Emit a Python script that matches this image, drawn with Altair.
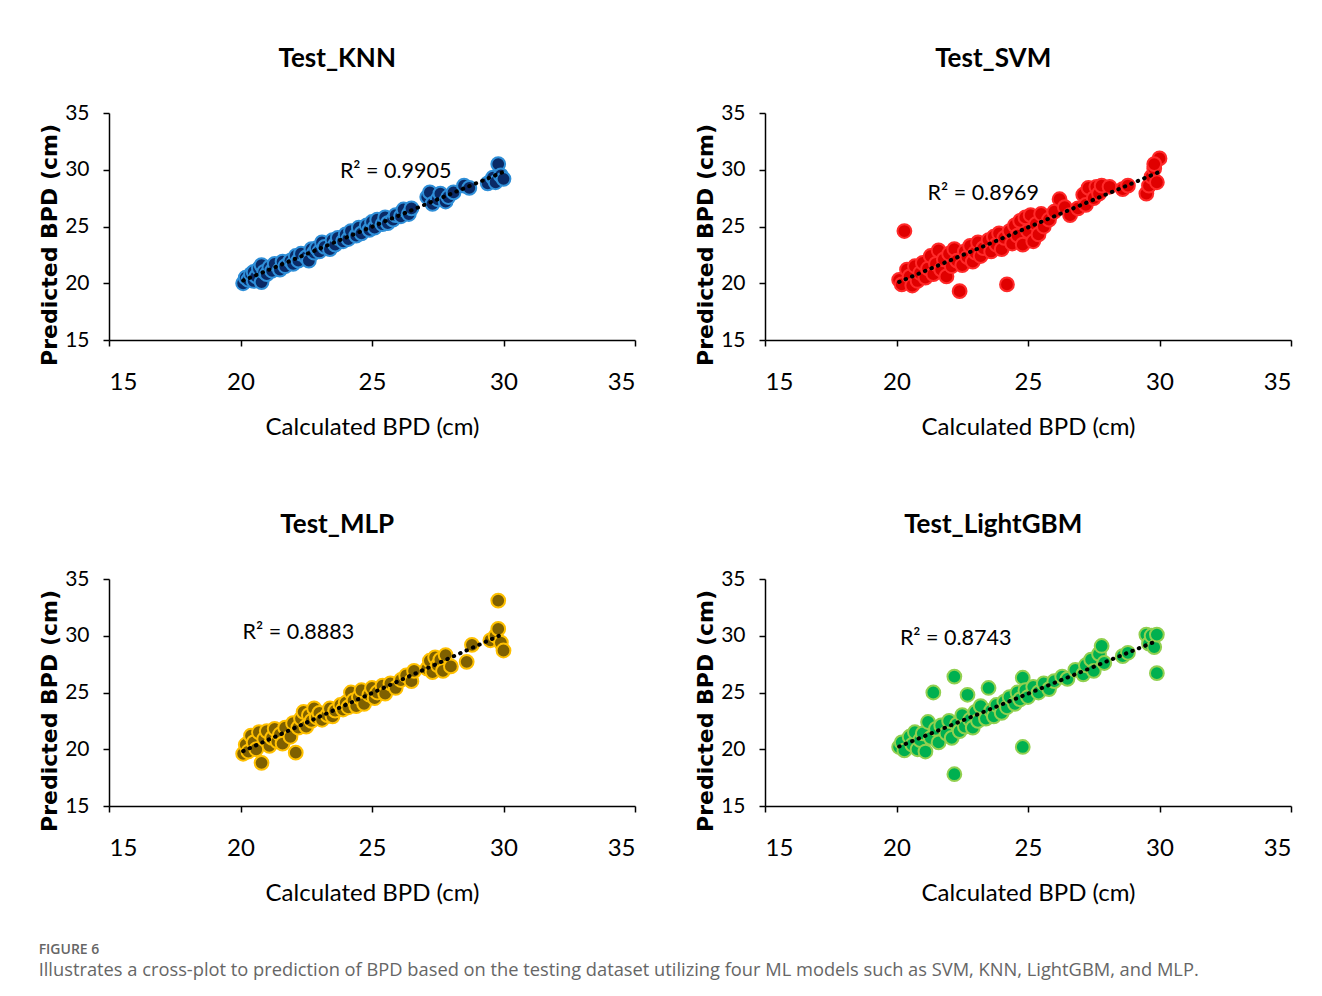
import altair as alt
import pandas as pd

# ---------------- data ----------------
knn_points = [
    (20.1, 20.0), (20.2, 20.5), (20.3, 20.3), (20.4, 20.8), (20.5, 20.2), (20.5, 21.0),
    (20.6, 20.6), (20.7, 21.3), (20.8, 20.1), (20.8, 21.6), (20.9, 21.0), (21.0, 20.8),
    (21.1, 21.4), (21.2, 21.1), (21.3, 21.7), (21.5, 21.2), (21.6, 21.9), (21.7, 21.5),
    (21.9, 22.0), (22.0, 21.7), (22.1, 22.4), (22.2, 22.0), (22.3, 22.6), (22.5, 22.3),
    (22.6, 22.0), (22.7, 23.0), (22.8, 22.7), (22.9, 23.1), (23.0, 22.8), (23.1, 23.6),
    (23.2, 23.2), (23.4, 23.0), (23.5, 23.8), (23.6, 23.4), (23.7, 24.0), (23.9, 23.7),
    (24.0, 24.3), (24.1, 23.9), (24.2, 24.6), (24.4, 24.2), (24.5, 24.9), (24.6, 24.4),
    (24.8, 25.1), (24.9, 24.7), (25.0, 25.4), (25.1, 24.9), (25.2, 25.6), (25.4, 25.2),
    (25.5, 25.8), (25.6, 25.3), (25.8, 25.6), (25.9, 26.0), (26.1, 25.9), (26.2, 26.5),
    (26.4, 26.1), (26.5, 26.6), (27.1, 27.6), (27.2, 28.0), (27.3, 27.0), (27.5, 27.4),
    (27.6, 27.9), (27.8, 27.2), (27.9, 27.6), (28.1, 28.0), (28.5, 28.6), (28.7, 28.4),
    (29.4, 28.8), (29.6, 29.3), (29.7, 28.9), (29.8, 30.5), (29.9, 29.5), (30.0, 29.2),
]
svm_points = [
    (20.1, 20.3), (20.2, 19.9), (20.3, 24.6), (20.4, 21.2), (20.5, 20.6), (20.6, 19.8),
    (20.7, 21.5), (20.8, 20.2), (20.9, 20.9), (21.0, 21.8), (21.1, 20.5), (21.2, 21.3),
    (21.3, 22.4), (21.4, 20.8), (21.5, 21.7), (21.6, 22.9), (21.7, 21.2), (21.8, 22.1),
    (21.9, 20.6), (22.0, 22.6), (22.1, 21.5), (22.2, 23.0), (22.3, 22.0), (22.4, 19.3),
    (22.5, 21.6), (22.6, 22.8), (22.7, 22.3), (22.8, 23.3), (22.9, 21.9), (23.0, 22.7),
    (23.1, 23.6), (23.2, 22.4), (23.3, 23.1), (23.5, 23.8), (23.6, 22.8), (23.7, 24.1),
    (23.8, 23.4), (23.9, 24.4), (24.0, 23.0), (24.1, 24.0), (24.2, 19.9), (24.3, 24.6),
    (24.4, 23.5), (24.5, 25.1), (24.6, 24.2), (24.7, 25.5), (24.8, 23.4), (24.9, 25.8),
    (25.0, 24.6), (25.1, 26.0), (25.2, 23.7), (25.3, 25.2), (25.4, 24.3), (25.5, 26.1),
    (25.6, 25.0), (25.8, 25.6), (26.0, 26.3), (26.2, 27.4), (26.4, 26.7), (26.6, 26.0),
    (26.9, 26.6), (27.1, 27.8), (27.2, 26.9), (27.3, 28.4), (27.5, 27.5), (27.6, 28.5),
    (27.7, 27.9), (27.8, 28.6), (28.1, 28.5), (28.6, 28.3), (28.8, 28.6), (29.5, 27.9),
    (29.6, 28.6), (29.7, 29.4), (29.8, 30.1), (29.9, 28.9), (30.0, 31.0), (29.8, 30.5),
]
mlp_points = [
    (20.1, 19.6), (20.2, 20.4), (20.3, 19.8), (20.4, 21.2), (20.5, 20.6), (20.6, 20.0),
    (20.7, 21.5), (20.8, 18.8), (20.9, 20.9), (21.0, 21.6), (21.1, 20.3), (21.2, 21.0),
    (21.3, 21.8), (21.4, 20.7), (21.5, 21.3), (21.6, 20.5), (21.7, 21.9), (21.9, 21.1),
    (22.0, 22.3), (22.1, 19.7), (22.2, 21.9), (22.3, 22.7), (22.4, 23.3), (22.5, 22.0),
    (22.6, 23.0), (22.7, 22.5), (22.8, 23.6), (22.9, 22.8), (23.0, 23.2), (23.1, 22.6),
    (23.3, 23.0), (23.4, 23.6), (23.5, 22.9), (23.6, 23.4), (23.8, 23.9), (23.9, 23.5),
    (24.0, 24.1), (24.1, 23.7), (24.2, 25.0), (24.3, 24.3), (24.4, 23.8), (24.5, 24.6),
    (24.6, 25.2), (24.7, 24.0), (24.9, 24.8), (25.0, 25.4), (25.1, 24.5), (25.2, 25.0),
    (25.4, 25.6), (25.5, 24.9), (25.7, 25.8), (25.9, 25.4), (26.1, 26.1), (26.3, 26.5),
    (26.5, 26.0), (26.6, 26.9), (27.1, 27.1), (27.2, 27.8), (27.3, 26.8), (27.4, 28.1),
    (27.5, 27.4), (27.6, 27.9), (27.7, 26.9), (27.8, 28.3), (28.0, 27.3), (28.6, 27.7),
    (28.8, 29.2), (29.5, 29.6), (29.7, 30.0), (29.8, 33.1), (29.8, 30.6), (29.9, 29.4),
    (30.0, 28.7),
]
lgb_points = [
    (20.1, 20.2), (20.2, 20.6), (20.3, 19.9), (20.5, 21.1), (20.6, 20.4), (20.7, 21.5),
    (20.8, 20.0), (20.9, 20.8), (21.0, 21.4), (21.1, 19.8), (21.2, 22.4), (21.3, 21.0),
    (21.4, 25.0), (21.5, 21.8), (21.6, 20.6), (21.7, 22.1), (21.9, 21.4), (22.0, 22.5),
    (22.1, 21.0), (22.2, 26.4), (22.2, 17.8), (22.3, 22.2), (22.4, 21.6), (22.5, 23.0),
    (22.6, 22.0), (22.7, 24.8), (22.8, 22.6), (22.9, 21.9), (23.0, 23.3), (23.1, 22.5),
    (23.2, 23.8), (23.4, 22.7), (23.5, 25.4), (23.6, 23.4), (23.7, 22.9), (23.8, 23.9),
    (24.0, 23.2), (24.1, 24.2), (24.2, 23.7), (24.3, 24.6), (24.5, 24.0), (24.6, 25.0),
    (24.7, 24.4), (24.8, 26.3), (24.8, 20.2), (24.9, 25.2), (25.0, 24.6), (25.2, 25.5),
    (25.4, 25.0), (25.6, 25.8), (25.8, 25.3), (26.0, 26.0), (26.3, 26.4), (26.5, 26.2),
    (26.8, 27.0), (27.1, 26.6), (27.2, 27.4), (27.4, 27.9), (27.5, 26.9), (27.7, 28.4),
    (27.8, 29.1), (27.9, 27.6), (28.6, 28.2), (28.8, 28.5), (29.5, 30.1), (29.6, 29.3),
    (29.7, 30.0), (29.8, 29.0), (29.9, 30.1), (29.9, 26.7),
]

panel_titles = ["Test_KNN", "Test_SVM", "Test_MLP", "Test_LightGBM"]
r2_labels = ["R² = 0.9905", "R² = 0.8969", "R² = 0.8883", "R² = 0.8743"]
r2_x = [25.9, 23.3, 22.2, 22.25]
r2_y = [29.8, 27.85, 30.25, 29.7]
fills = ["#0a2a66", "#e00000", "#7f6000", "#00b050"]
strokes = ["#2f8fd8", "#ff2a2a", "#ffc000", "#92d050"]
tick_vals = [15, 20, 25, 30, 35]

x_title = "Calculated BPD (cm)"
y_title = "Predicted BPD (cm)"
fig_label = "FIGURE 6"
caption = ("Illustrates a cross-plot to prediction of BPD based on the testing dataset "
           "utilizing four ML models such as SVM, KNN, LightGBM, and MLP.")

FONT_N = "Lato, Carlito, Calibri, sans-serif"
FONT_Y = "DejaVu Sans, Verdana, sans-serif"

W, H = 526, 227


def panel(i, pts):
    df = pd.DataFrame(pts, columns=["calc", "pred"])
    xs = alt.Scale(domain=[15, 35], nice=False, zero=False)
    ys = alt.Scale(domain=[15, 35], nice=False, zero=False)
    xax = alt.Axis(values=tick_vals, title=x_title, labelFontSize=24)
    yax = alt.Axis(values=tick_vals, title=y_title, titleY=H / 2 + 18)
    base = alt.Chart(df)
    dots = base.mark_point(shape="circle", filled=True, fill=fills[i], stroke=strokes[i],
                           strokeWidth=2, size=190, opacity=1).encode(
        x=alt.X("calc:Q", scale=xs, axis=xax),
        y=alt.Y("pred:Q", scale=ys, axis=yax),
    )
    trend = base.transform_regression("calc", "pred").mark_line(
        color="black", strokeDash=[0.5, 6.5], strokeWidth=4, strokeCap="round"
    ).encode(x=alt.X("calc:Q", scale=xs), y=alt.Y("pred:Q", scale=ys))
    lab = alt.Chart(pd.DataFrame({"x": [r2_x[i]], "y": [r2_y[i]], "t": [r2_labels[i]]})).mark_text(
        font=FONT_N, fontSize=21.5, color="black"
    ).encode(x=alt.X("x:Q", scale=xs), y=alt.Y("y:Q", scale=ys), text="t:N")
    return alt.layer(dots, trend, lab).properties(
        width=W, height=H,
        title=alt.TitleParams(panel_titles[i], font=FONT_N, fontSize=26, fontWeight="bold",
                              anchor="middle", frame="bounds", offset=30, color="black"),
    )


p = [panel(0, knn_points), panel(1, svm_points), panel(2, mlp_points), panel(3, lgb_points)]

chart = alt.vconcat(
    alt.hconcat(p[0], p[1], spacing=58),
    alt.hconcat(p[2], p[3], spacing=58),
    spacing=73,
).properties(
    title=alt.TitleParams(fig_label, subtitle=[caption], orient="bottom", anchor="start",
                          font="Open Sans", fontSize=14, fontWeight=600, color="#666666",
                          subtitleFont="Open Sans", subtitleFontSize=18.3, subtitleColor="#666666",
                          subtitlePadding=5, offset=38),
    padding={"left": 30, "top": 38, "right": 20, "bottom": 10},
).configure_view(stroke=None).configure_axis(
    grid=False, domainColor="black", domainWidth=1.5, tickColor="black", tickWidth=1.5,
    tickSize=6, labelFont=FONT_N, labelFontSize=21, labelColor="black",
    titleColor="black",
).configure_axisX(
    labelPadding=24, titleFont=FONT_N, titleFontSize=24, titleFontWeight="normal", titlePadding=21,
).configure_axisY(
    labelPadding=14, titleFont=FONT_Y, titleFontSize=22, titleFontWeight="bold", titlePadding=3,
)

chart.save("out.html", embed_options={"renderer": "svg", "actions": False})
